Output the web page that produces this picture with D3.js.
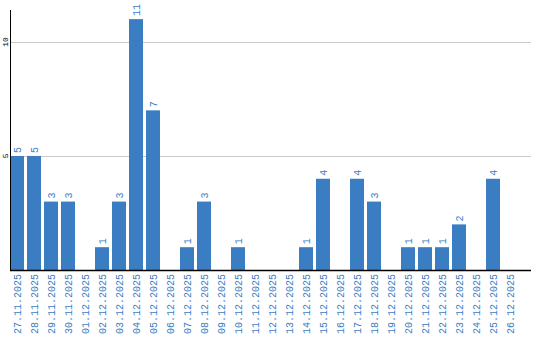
<!DOCTYPE html>
<html lang="en">
<head>
<meta charset="UTF-8">
<title>Daily counts</title>
<script src="https://d3js.org/d3.v7.min.js"></script>
<style>
    body { margin: 0; background: #fff; }
    .grid line { stroke: #c8c8c8; stroke-width: 1px; }
    .bar { fill: #3b7dc2; }
    .value { fill: #3b7dc2; font-family: "Liberation Mono", monospace; font-size: 10px; }
    .xlab { fill: #3b7dc2; font-family: "Liberation Mono", monospace; font-size: 10px; }
    .ylab { fill: #000; font-family: "Liberation Mono", monospace; font-size: 8px; }
</style>
</head>
<body>
<svg id="chart" width="540" height="340"></svg>
<script>
    const dates = ["27.11.2025","28.11.2025","29.11.2025","30.11.2025","01.12.2025","02.12.2025",
        "03.12.2025","04.12.2025","05.12.2025","06.12.2025","07.12.2025","08.12.2025","09.12.2025",
        "10.12.2025","11.12.2025","12.12.2025","13.12.2025","14.12.2025","15.12.2025","16.12.2025",
        "17.12.2025","18.12.2025","19.12.2025","20.12.2025","21.12.2025","22.12.2025","23.12.2025",
        "24.12.2025","25.12.2025","26.12.2025"];
    const counts = [5,5,3,3,0,1,3,11,7,0,1,3,0,1,0,0,0,1,4,0,4,3,0,1,1,1,2,0,4,0];
    const yTicks = [5, 10];

    const svg = d3.select("#chart");

    // 17px per day, 14px bars, starting at the axis
    const x = d3.scaleBand().domain(dates)
        .range([10, 10 + 17 * (dates.length - 3 / 17)])
        .paddingInner(3 / 17).paddingOuter(0).align(0);
    const y = d3.scaleLinear().domain([0, 11.4]).range([270, 10]);

    // gridlines
    svg.append("g").attr("class", "grid")
        .selectAll("line").data(yTicks).join("line")
        .attr("x1", 10).attr("x2", 531)
        .attr("y1", d => y(d) + 0.5).attr("y2", d => y(d) + 0.5);

    // y tick labels
    svg.selectAll("text.ylab").data(yTicks).join("text")
        .attr("class", "ylab")
        .attr("transform", d => `translate(8,${y(d)}) rotate(-90)`)
        .attr("text-anchor", "middle")
        .text(d => d);

    // bars
    svg.selectAll("rect.bar").data(counts).join("rect")
        .attr("class", "bar")
        .attr("x", (d, i) => x(dates[i]))
        .attr("width", x.bandwidth())
        .attr("y", d => y(d))
        .attr("height", d => y(0) - y(d));

    // value labels
    svg.selectAll("text.value").data(counts.map((v, i) => ({v, d: dates[i]})).filter(o => o.v > 0))
        .join("text")
        .attr("class", "value")
        .attr("transform", o => `translate(${x(o.d) + x.bandwidth() / 2},${y(o.v) - 3}) rotate(-90)`)
        .attr("dy", "0.35em")
        .text(o => o.v);

    // axes lines
    svg.append("line").attr("x1", 10.5).attr("x2", 10.5).attr("y1", 10).attr("y2", 270)
        .attr("stroke", "#000").attr("stroke-width", 1);
    svg.append("line").attr("x1", 10).attr("x2", 531).attr("y1", 270.5).attr("y2", 270.5)
        .attr("stroke", "#000").attr("stroke-width", 1.5);

    // x labels
    svg.selectAll("text.xlab").data(dates).join("text")
        .attr("class", "xlab")
        .attr("transform", d => `translate(${x(d) + x.bandwidth() / 2},274) rotate(-90)`)
        .attr("text-anchor", "end")
        .attr("dy", "0.35em")
        .text(d => d);
</script>
</body>
</html>
